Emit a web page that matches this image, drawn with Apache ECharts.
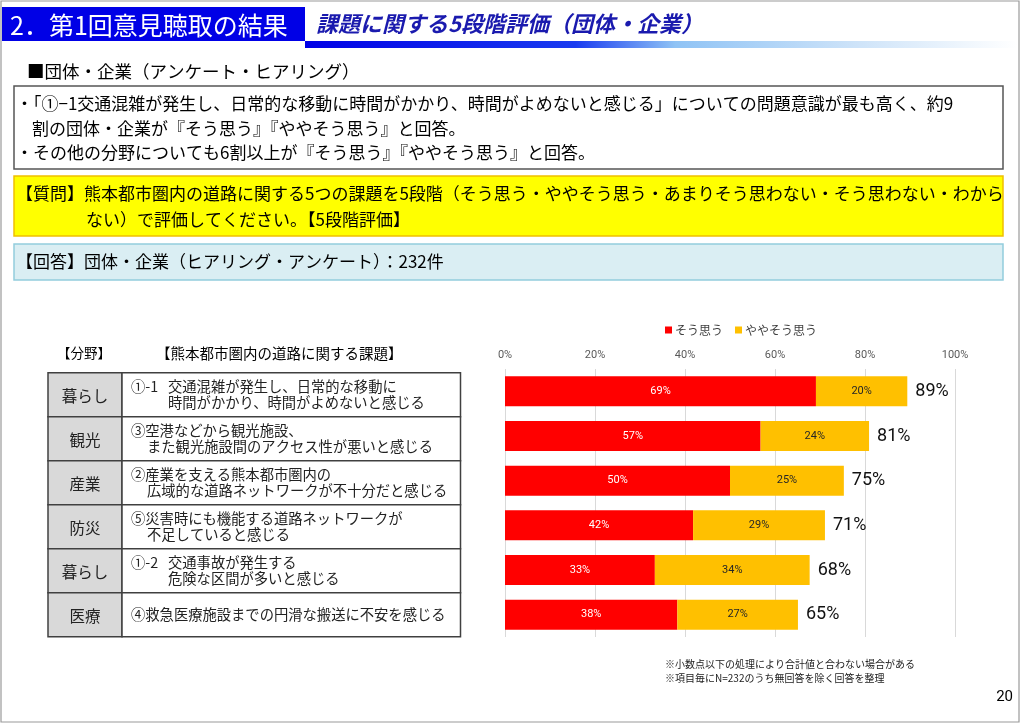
<!DOCTYPE html>
<html><head><meta charset="utf-8">
<script src="https://cdn.jsdelivr.net/npm/echarts@6/dist/echarts.min.js"></script>
<style>html,body{margin:0;padding:0;background:#fff}#c{width:1024px;height:724px}</style>
</head><body><div id="c"></div>
<script>
// ---- data ----
const categories = ['①-1', '③', '②', '⑤', '①-2', '④'];
const fields = ['暮らし', '観光', '産業', '防災', '暮らし', '医療'];
const issueLines = [
  [['①-1', '交通混雑が発生し、日常的な移動に'], [null, '時間がかかり、時間がよめないと感じる']],
  [['③空港などから観光施設、'], ['また観光施設間のアクセス性が悪いと感じる']],
  [['②産業を支える熊本都市圏内の'], ['広域的な道路ネットワークが不十分だと感じる']],
  [['⑤災害時にも機能する道路ネットワークが'], ['不足していると感じる']],
  [['①-2', '交通事故が発生する'], [null, '危険な区間が多いと感じる']],
  [['④救急医療施設までの円滑な搬送に不安を感じる']]
];
const seriesNames = ['そう思う', 'ややそう思う'];
const strongly = [69.1, 56.8, 50.0, 41.8, 33.3, 38.3];
const somewhat = [20.3, 24.1, 25.3, 29.3, 34.4, 26.8];
const xTicks = [0, 20, 40, 60, 80, 100];
const totals = strongly.map((v, i) => v + somewhat[i]);

const CJK = '"Noto Sans CJK JP", sans-serif';
const NARROW = '"Liberation Sans Narrow", "Roboto", sans-serif';

const g = [];
function txt(text, x, y, size, opts) {
  opts = opts || {};
  g.push({
    type: 'text', z: 10,
    style: {
      text: text, x: x, y: y,
      fill: opts.fill || '#000',
      font: (opts.italic ? 'italic ' : '') + (opts.bold ? 'bold ' : '') + size + 'px ' + (opts.family || CJK),
      textAlign: opts.align || 'left',
      textVerticalAlign: 'middle', verticalAlign: 'middle'
    }
  });
}
function rect(x, y, w, h, fill, stroke, lw, z) {
  g.push({ type: 'rect', z: z || 1, shape: { x: x, y: y, width: w, height: h },
    style: { fill: fill, stroke: stroke || null, lineWidth: lw || 0 } });
}

// slide frame
rect(1, 1, 1018, 721, 'none', '#9a9a9a', 1.2, 0);
// header
g.push({ type: 'rect', z: 1, shape: { x: 305, y: 41, width: 712, height: 7 },
  style: { fill: new echarts.graphic.LinearGradient(0, 0, 1, 0, [
    { offset: 0, color: '#0000e6' }, { offset: 0.38, color: '#1a3cf0' },
    { offset: 0.52, color: '#8fc3f5' }, { offset: 0.78, color: '#cfe4f9' },
    { offset: 1, color: '#ffffff' }]) } });
rect(2, 7, 303, 34, '#0000e6');
txt('2．第1回意見聴取の結果', 10, 25, 25, { fill: '#ffffff' });
txt('課題に関する5段階評価（団体・企業）', 316, 24, 22, { fill: '#1a1aae', italic: true, bold: true });
txt('■団体・企業（アンケート・ヒアリング）', 27, 71, 17.5);

// summary box
rect(14, 86, 989, 83, '#ffffff', '#555555', 1.5);
txt('・「①−1交通混雑が発生し、日常的な移動に時間がかかり、時間がよめないと感じる」についての問題意識が最も高く、約9', 16, 104, 17);
txt('割の団体・企業が『そう思う』『ややそう思う』と回答。', 32, 129, 17);
txt('・その他の分野についても6割以上が『そう思う』『ややそう思う』と回答。', 16, 153, 17);

// question box
rect(14, 176, 989, 60, '#ffff00', '#f0c000', 1.5);
txt('【質問】熊本都市圏内の道路に関する5つの課題を5段階（そう思う・ややそう思う・あまりそう思わない・そう思わない・わから', 16, 194, 17);
txt('ない）で評価してください。【5段階評価】', 86, 220, 17);

// answer box
rect(14, 244, 989, 36, '#daeef3', '#93cddd', 1.5);
txt('【回答】団体・企業（ヒアリング・アンケート）：232件', 16, 262, 17);

// table
txt('【分野】', 57, 353, 13.5);
txt('【熊本都市圏内の道路に関する課題】', 156, 353, 14.5);
const tTop = 372.7, rowH = 44, tL = 48, tM = 122, tR = 460.5;
fields.forEach((f, i) => {
  const y = tTop + i * rowH;
  rect(tL, y, tM - tL, rowH, '#d9d9d9', '#404040', 1.5, 2);
  rect(tM, y, tR - tM, rowH, '#ffffff', '#404040', 1.5, 2);
  const cy = y + rowH / 2;
  txt(f, (tL + tM) / 2, cy + 1, 15.5, { align: 'center', fill: '#222' });
  const lines = issueLines[i];
  lines.forEach((ln, k) => {
    const ly = lines.length === 1 ? cy : cy - 8.3 + k * 16.6;
    if (ln.length === 2) {
      if (ln[0]) txt(ln[0], 131, ly, 14.3, { fill: '#222' });
      txt(ln[1], 168, ly, 14.3, { fill: '#222' });
    } else {
      txt(ln[0], k === 0 ? 131 : 147, ly, 14.3, { fill: '#222' });
    }
  });
});

// footnotes
txt('※小数点以下の処理により合計値と合わない場合がある', 665, 664, 10, { fill: '#222' });
txt('※項目毎にN=232のうち無回答を除く回答を整理', 665, 678, 10, { fill: '#222' });
txt('20', 1013, 697, 15, { align: 'right', family: NARROW });

const chart = echarts.init(document.getElementById('c'));
chart.setOption({
  animation: false,
  graphic: g,
  legend: {
    data: seriesNames, left: 660, top: 319,
    itemWidth: 7, itemHeight: 7, itemGap: 12, icon: 'rect',
    textStyle: { fontFamily: CJK, fontSize: 12, color: '#404040', padding: [0, 0, 0, -2] }
  },
  grid: { left: 505, right: 69, top: 369, bottom: 87, containLabel: false },
  xAxis: {
    type: 'value', position: 'top', min: xTicks[0], max: xTicks[xTicks.length - 1], interval: xTicks[1] - xTicks[0],
    axisLabel: { formatter: '{value}%', color: '#595959', fontSize: 11, fontFamily: NARROW, margin: 8 },
    axisLine: { show: false }, axisTick: { show: false },
    splitLine: { lineStyle: { color: '#d9d9d9', width: 1 } }
  },
  yAxis: {
    type: 'category', data: categories, inverse: true,
    axisLabel: { show: false }, axisLine: { show: false }, axisTick: { show: false }
  },
  series: [
    {
      name: '合計', type: 'bar', data: totals, barWidth: 30, barGap: '-100%', silent: true,
      itemStyle: { color: 'rgba(0,0,0,0)' },
      label: { show: true, position: 'right', distance: 8, formatter: p => Math.round(p.value) + '%',
        fontSize: 18, fontFamily: NARROW, color: '#111' }
    },
    {
      name: seriesNames[0], type: 'bar', stack: 's', data: strongly, barWidth: 30,
      itemStyle: { color: '#ff0000' },
      label: { show: true, position: 'inside', formatter: p => Math.round(p.value) + '%',
        color: '#ffffff', fontSize: 11, fontFamily: NARROW }
    },
    {
      name: seriesNames[1], type: 'bar', stack: 's', data: somewhat, barWidth: 30,
      itemStyle: { color: '#ffc000' },
      label: { show: true, position: 'inside', formatter: p => Math.round(p.value) + '%',
        color: '#262626', fontSize: 11, fontFamily: NARROW }
    }
  ]
});
</script></body></html>
